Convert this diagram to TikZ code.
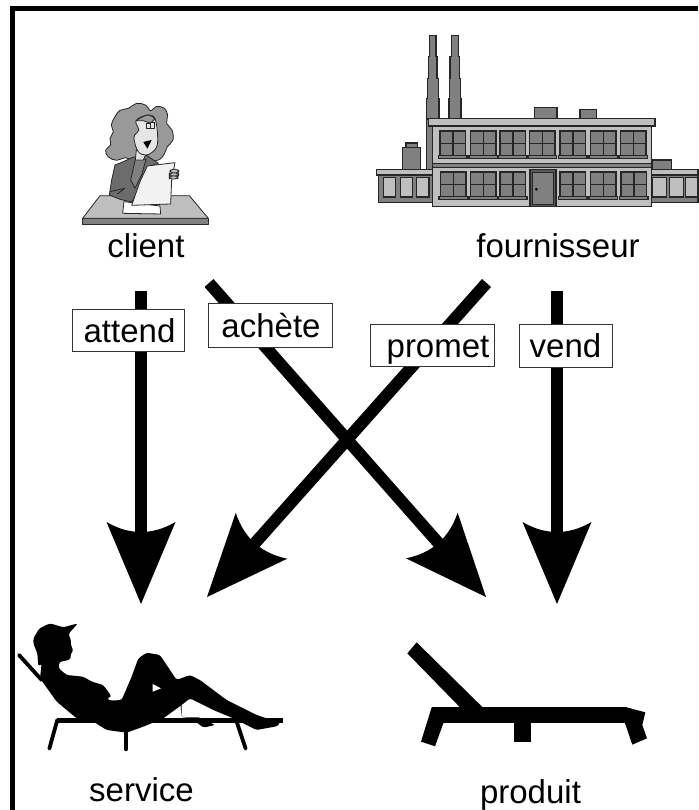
\documentclass[tikz,border=0pt]{standalone}
\usepackage{fontspec}
\setmainfont{Liberation Sans}
\usetikzlibrary{arrows.meta}
\pgfdeclarearrow{
  name=BigHead,
  setup code={
    \pgfarrowssettipend{0pt}
    \pgfarrowssetlineend{-60pt}
    \pgfarrowssetvisualbackend{-82pt}
    \pgfarrowssetbackend{-82pt}
    \pgfarrowshullpoint{0pt}{0pt}
    \pgfarrowshullpoint{-82pt}{34.5pt}
    \pgfarrowshullpoint{-82pt}{-34.5pt}
  },
  drawing code={
    \pgfpathmoveto{\pgfqpoint{0pt}{0pt}}
    \pgfpathlineto{\pgfqpoint{-82pt}{34.5pt}}
    \pgfpathquadraticcurveto{\pgfqpoint{-62pt}{0pt}}{\pgfqpoint{-82pt}{-34.5pt}}
    \pgfpathclose
    \pgfusepathqfill
  },
}
\definecolor{gA}{gray}{0.75}
\definecolor{gB}{gray}{0.5}
\definecolor{gC}{gray}{0.15}
\definecolor{gD}{gray}{0.6}
\definecolor{gE}{gray}{0.9}
\tikzset{
  caption/.style={font=\fontsize{33}{36}\selectfont,anchor=base,inner sep=0pt},
  verb/.style={draw=black!80,line width=1pt,fill=white,font=\fontsize{33}{36}\selectfont,
    text height=24pt,text depth=0pt,inner sep=0pt,anchor=center},
  flow/.style={line width=12pt,draw=black,-{BigHead}},
  flowd/.style={line width=12pt,draw=black,-{BigHead[scale=.97]}},
  bld/.style={draw=gC,line width=1.2pt},
  ink/.style={draw=black!85,line width=.8pt,line join=round},
}
\newcommand{\pane}[2]{% x, y : four-pane window, sill below
  \draw[bld,fill=gB] (#1,#2) rectangle ++(77,74);
  \draw[bld] (#1+39,#2) -- ++(0,74) (#1,#2+37) -- ++(77,0);
  \draw[bld,fill=gB] (#1-4,#2+74) rectangle ++(85,8);
}
\begin{document}
\begin{tikzpicture}[x=1pt,y=-1pt]
\useasboundingbox (0,0) rectangle (698,810);
\fill[white] (0,0) rectangle (698,810);
\draw[line width=5pt,miter limit=10] (12.5,810) -- (12.5,8.5) -- (698,8.5);

% client illustration
\begin{scope}[shift={(60,80)},x=.3333pt,y=-.3333pt]
  \draw[ink,fill=gB] (68,415) -- (445,415) -- (445,433) -- (68,433) -- cycle;
  \draw[ink,fill=gA] (120,347) -- (388,347) -- (445,415) -- (68,415) -- cycle;
  \draw[ink,fill=white] (192,365) -- (300,378) -- (302,402) -- (188,400) -- cycle;
  % hair
  \draw[ink,fill=gD] plot[smooth cycle,tension=.65] coordinates {
    (230,70) (258,76) (272,92) (288,80) (312,84) (323,105) (320,130) (336,150) (339,180)
    (322,200) (313,222) (295,240) (255,245) (215,240) (195,233) (170,241) (145,231)
    (137,210) (152,195) (150,175) (160,155) (154,135) (165,110) (180,91) (205,85)};
  % jacket
  \draw[ink,fill=gB!85!black] plot[smooth,tension=.3] coordinates {(165,255) (190,245) (218,232)}
    -- (258,225) -- (295,250) -- (262,262) -- (238,325) -- (215,366) -- (180,358) -- (148,345) -- (155,300) -- cycle;
  \draw[ink,fill=gB] (226,238) -- (258,238) -- (245,285) -- (225,325) -- (212,300) -- cycle;
  \draw[ink] (150,335) -- (195,325) (195,325) -- (172,342);
  \draw[ink,fill=gE] (229,210) -- (226,240) -- (250,240) -- (258,222) -- cycle;
  % face
  \draw[ink,fill=gE] plot[smooth cycle,tension=.6] coordinates {
    (228,122) (262,105) (285,116) (293,170) (288,205) (260,225) (234,214) (222,172) (236,150)};
  \draw[ink,fill=gD] plot[smooth,tension=.6] coordinates {(228,122) (262,105) (285,116)} -- (272,130) -- (250,122) -- cycle;
  \draw[ink,fill=gE] (259,130) rectangle (271,146);
  \draw[ink,fill=gE] (271,128) rectangle (283,144);
  \fill (250,186) -- (275,180) -- (262,206) -- cycle;
  % paper and hand
  \draw[ink,fill=gE!50!white] (262,258) -- (345,248) -- (335,300) -- (332,372) -- (215,376) -- (240,305) -- cycle;
  \draw[ink,fill=gA,rounded corners=3pt] (330,268) rectangle (356,279);
  \draw[ink,fill=gA,rounded corners=3pt] (328,279) rectangle (356,288);
  \draw[ink,fill=gA,rounded corners=3pt] (328,288) rectangle (354,297);
\end{scope}

% fournisseur illustration
\begin{scope}[shift={(370,20)},x=.3333pt,y=-.3333pt]
  \draw[bld,fill=gB] (178,46) -- (198,46) -- (198,110) -- (201,110) -- (201,175) -- (205,175) -- (205,235) -- (207,235) -- (207,297) -- (170,297) -- (170,235) -- (172,235) -- (172,175) -- (175,175) -- (175,110) -- (178,110) -- cycle;
  \draw[bld,fill=gB] (244,46) -- (265,46) -- (265,110) -- (268,110) -- (268,175) -- (271,175) -- (271,235) -- (273,235) -- (273,297) -- (237,297) -- (237,235) -- (238,235) -- (238,175) -- (240,175) -- (240,110) -- (244,110) -- cycle;
  \draw[bld,fill=gB] (170,297) rectangle (188,448);
  \draw[bld,fill=gB] (493,262) rectangle (561,296);
  \draw[bld,fill=gB] (630,268) rectangle (680,296);
  \draw[bld,fill=gB] (108,369) rectangle (142,382);
  \draw[bld,fill=gB] (98,382) rectangle (152,448);
  \draw[bld,fill=gB] (848,420) rectangle (905,448);
  % wings
  \draw[bld,fill=gB] (25,465) rectangle (187,547);
  \draw[bld,fill=gA] (19,448) rectangle (187,465);
  \foreach \wx/\ww in {41/36,91/37,140/37} \draw[bld,fill=gA] (\wx,472) rectangle ++(\ww,59);
  \draw[bld,fill=gB] (845,465) -- (984,465) -- (984,547) -- (845,547) -- cycle;
  \draw[bld,fill=gA] (845,448) -- (984,448) -- (984,465) -- (845,465) -- cycle;
  \foreach \wx/\ww in {848/42,898/42,947/37} \draw[bld,fill=gA] (\wx,472) rectangle ++(\ww,59);
  % main block
  \draw[bld,fill=gA] (187,318) rectangle (845,560);
  \draw[bld,fill=gA] (175,296) rectangle (855,318);
  \draw[bld,fill=gB] (187,431) rectangle (845,443);
  \foreach \wx in {210,301,390,478,570,661,751} {\pane{\wx}{333}}
  \foreach \wx in {211,301,390,570,661,753} {\pane{\wx}{456}}
  \draw[bld,fill=gB!70!black] (480,448) rectangle (558,560);
  \draw[bld,fill=gB] (488,458) rectangle (551,553);
  \fill[black] (499,508) circle (1.5pt);
\end{scope}

% service illustration
\begin{scope}[shift={(0,610)},x=.3333pt,y=-.3333pt]
  \draw[line width=3.8pt,line cap=round] (57,135) -- (125,210);
  \draw[line width=3.8pt,line cap=round] (172,330) -- (148,416);
  \draw[line width=3.8pt,line cap=round] (378,360) -- (378,418);
  \draw[line width=3.8pt,line cap=round] (710,335) -- (737,416);
  \fill (172,325) rectangle (850,340);
  \fill[rounded corners=2pt] (540,268) -- (545,322) -- (600,322) -- (625,335) -- (645,345) -- (610,353) -- (575,325) -- (545,322) -- (545,285) -- cycle;
  \fill[rounded corners=2.5pt] (100,100) -- (100,85) -- (118,55) -- (150,40) -- (190,52) -- (234,40) -- (205,72) -- (213,90) -- (213,108) -- (221,122) -- (212,130) -- (212,148) -- (190,154) -- (178,155) -- (176,175) -- (200,195) -- (250,200) -- (275,215) -- (310,225) -- (335,260) -- (320,265) -- (330,272) -- (365,270) -- (395,200) -- (415,145) -- (440,128) -- (480,135) -- (530,210) -- (570,195) -- (600,210) -- (680,270) -- (770,315) -- (800,325) -- (840,335) -- (835,348) -- (770,360) -- (740,345) -- (700,325) -- (640,300) -- (570,265) -- (545,285) -- (490,325) -- (430,350) -- (380,368) -- (320,360) -- (280,335) -- (230,325) -- (170,275) -- (120,205) -- (125,160) -- (115,170) -- (112,130) -- cycle;
  \fill[white] (458,222) -- (483,235) -- (458,245) -- cycle;
\end{scope}

% produit illustration
\begin{scope}[shift={(390,630)},x=.3333pt,y=-.3333pt]
  \fill (125,232) rectangle (710,278);
  \fill (80,37) -- (52,70) -- (210,232) -- (278,232) -- cycle;
  \fill (125,232) -- (145,232) -- (160,280) -- (135,349) -- (93,335) -- cycle;
  \fill (373,278) rectangle (422,337);
  \fill (710,232) -- (766,247) -- (757,285) -- (771,325) -- (727,344) -- (700,265) -- cycle;
\end{scope}

% captions
\node[caption] (client) at (146,257) {client};
\node[caption] (fournisseur) at (558,257) {fournisseur};
\node[caption] (service) at (141.5,801) {service};
\node[caption] (produit) at (530.5,803) {produit};

% connector ends
\coordinate (attA) at (141,291);
\coordinate (attB) at (141,604);
\coordinate (achA) at (209,283);
\coordinate (achB) at (486,597);
\coordinate (proA) at (486.5,283);
\coordinate (proB) at (207,597);
\coordinate (venA) at (557,291);
\coordinate (venB) at (557,604);

\draw[flow] (attA) -- (attB);
\draw[flow] (venA) -- (venB);
\draw[flowd] (achA) -- (achB);
\draw[flowd] (proA) -- (proB);

% verbs on the connectors
\node[verb,minimum width=112pt,minimum height=42pt] (attend) at (128,330) {\hspace{3pt}attend};
\node[verb,minimum width=124pt,minimum height=44pt] (achete) at (270,325) {\hspace{2pt}achète};
\node[verb,minimum width=124pt,minimum height=42pt] (promet) at (432,345) {\hspace{12pt}promet};
\node[verb,minimum width=93pt,minimum height=43pt] (vend) at (565.5,345.5) {vend\hspace{13pt}};
\end{tikzpicture}
\end{document}
